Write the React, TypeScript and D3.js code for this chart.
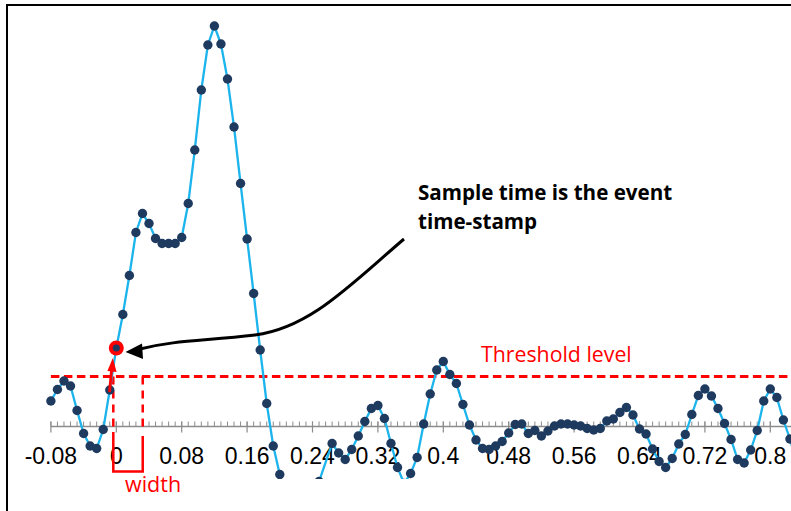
import React from 'react';
import * as d3 from 'd3';

// sample times (s) and amplitude
const sampleTimes = [
  -0.08, -0.072, -0.064, -0.056, -0.048, -0.04, -0.032, -0.024, -0.016, -0.008,
  0, 0.008, 0.016, 0.024, 0.032, 0.04, 0.048, 0.056, 0.064, 0.072,
  0.08, 0.088, 0.096, 0.104, 0.112, 0.12, 0.128, 0.136, 0.144, 0.152,
  0.16, 0.168, 0.176, 0.184, 0.192, 0.2, 0.208, 0.216, 0.224, 0.232,
  0.24, 0.248, 0.264, 0.272, 0.28, 0.288, 0.296, 0.304, 0.312,
  0.32, 0.328, 0.336, 0.344, 0.352, 0.36, 0.368, 0.376, 0.384, 0.392,
  0.4, 0.408, 0.416, 0.424, 0.432, 0.44, 0.448, 0.456, 0.464, 0.472,
  0.48, 0.488, 0.496, 0.504, 0.512, 0.52, 0.528, 0.536, 0.544, 0.552,
  0.56, 0.568, 0.576, 0.584, 0.592, 0.6, 0.608, 0.616, 0.624, 0.632,
  0.64, 0.648, 0.656, 0.664, 0.672, 0.68, 0.688, 0.696, 0.704, 0.712,
  0.72, 0.728, 0.736, 0.744, 0.752, 0.76, 0.768, 0.776, 0.784, 0.792,
  0.8, 0.808, 0.816, 0.824, 0.832,
];

const amplitudes = [
  0.255, 0.37, 0.455, 0.405, 0.16, -0.07, -0.195, -0.22, -0.03, 0.365,
  0.785, 1.12, 1.51, 1.94, 2.13, 2.03, 1.88, 1.83, 1.83, 1.83,
  1.89, 2.23, 2.765, 3.365, 3.815, 4.005, 3.825, 3.475, 2.995, 2.43,
  1.875, 1.33, 0.765, 0.23, -0.195, -0.48, -0.8, -1.05, -1.15, -1.05,
  -0.8, -0.55, -0.17, -0.265, -0.33, -0.23, -0.095, 0.05, 0.18,
  0.21, 0.08, -0.17, -0.41, -0.57, -0.47, -0.31, 0.025, 0.325, 0.565,
  0.65, 0.52, 0.43, 0.22, 0.015, -0.135, -0.22, -0.23, -0.195, -0.15,
  -0.065, 0.02, 0.025, -0.07, -0.04, -0.095, -0.045, 0.005, 0.025, 0.025,
  0.015, 0.005, -0.02, -0.035, -0.02, 0.055, 0.075, 0.14, 0.19, 0.115,
  -0.025, -0.075, -0.225, -0.35, -0.41, -0.32, -0.175, -0.08, 0.12, 0.31,
  0.375, 0.305, 0.18, 0.03, -0.13, -0.33, -0.365, -0.235, -0.04, 0.255,
  0.375, 0.29, 0.065, -0.125, -0.35,
];

const tickLabels = ['-0.08', '0', '0.08', '0.16', '0.24', '0.32', '0.4', '0.48', '0.56', '0.64', '0.72', '0.8'];

const thresholdLevel = 0.5;
const eventTime = 0;
const pulseWidth = 0.036;

const W = 791;
const H = 511;

const App = () => {
  const x = d3.scaleLinear().domain([-0.08, 0.8]).range([50.9, 770.3]);
  const y = d3.scaleLinear().domain([0, 4]).range([426.5, 26.5]);

  const points = sampleTimes.map((t, i) => ({ t, v: amplitudes[i] }));
  const line = d3.line<{ t: number; v: number }>().x((d) => x(d.t)).y((d) => y(d.v));

  const majorTicks = tickLabels.map(Number);
  const minorTicks = d3.range(0, 111).map((i) => -0.08 + i * 0.008);

  const axisY = y(0);
  const thrY = y(thresholdLevel);
  const eventPt = points.find((p) => p.t === eventTime)!;
  const ex = x(eventTime) - 3;
  const wx = x(pulseWidth) - 3;

  return (
    <svg width={W} height={H} style={{ position: 'absolute', left: 0, top: 0, background: '#fff' }}>
      <defs>
        <clipPath id="plot">
          <rect x={8} y={6} width={W} height={473} />
        </clipPath>
      </defs>
      <rect x={7} y={5} width={W + 20} height={H + 20} fill="none" stroke="#000" strokeWidth={2} />

      {/* axis */}
      <line x1={x(-0.08)} x2={W} y1={axisY} y2={axisY} stroke="#8c8c8c" strokeWidth={1.3} />
      {minorTicks.map((t, i) => (
        <line key={'m' + i} x1={x(t)} x2={x(t)} y1={axisY - 5} y2={axisY} stroke="#8c8c8c" strokeWidth={1} />
      ))}
      {majorTicks.map((t, i) => (
        <line key={'M' + i} x1={x(t)} x2={x(t)} y1={axisY - 5} y2={axisY + 6} stroke="#8c8c8c" strokeWidth={1.2} />
      ))}
      {majorTicks.map((t, i) => (
        <text key={'l' + i} x={x(t)} y={464} textAnchor="middle" fontFamily="Liberation Sans, Arial, sans-serif" fontSize={23} fill="#000">
          {tickLabels[i]}
        </text>
      ))}

      {/* threshold */}
      <line x1={x(-0.08)} x2={W} y1={thrY} y2={thrY} stroke="#ff0000" strokeWidth={3} strokeDasharray="8.5 4.5" />
      <text x={481} y={362} fontFamily="Open Sans, sans-serif" fontSize={21.3} fill="#ff0000">Threshold level</text>

      {/* width box */}
      <g stroke="#ff0000" strokeWidth={2.5} fill="none">
        <line x1={ex} x2={ex} y1={thrY} y2={432} strokeDasharray="8 6" />
        <line x1={wx} x2={wx} y1={thrY} y2={432} strokeDasharray="8 6" />
        <path d={`M${ex},432 V471.5 H${wx} V436`} />
      </g>
      <text x={125} y={491.5} fontFamily="Open Sans, sans-serif" fontSize={21.5} fill="#ff0000">width</text>

      {/* trace */}
      <g clipPath="url(#plot)">
        <path d={line(points) ?? ''} fill="none" stroke="#1cb4ec" strokeWidth={2.3} />
        <circle cx={x(eventPt.t)} cy={y(eventPt.v)} r={7.5} fill="#ff0000" />
        {points.map((p, i) => (
          <circle key={i} cx={x(p.t)} cy={y(p.v)} r={p.t === eventTime ? 3.6 : 4.7} fill="#1f3a5f" />
        ))}
      </g>

      {/* red arrow up to event point */}
      <path d="M109.5,392 L111.8,368" stroke="#ff0000" strokeWidth={2.8} fill="none" />
      <path d="M112.8,358 L116.6,372 L107.4,371 Z" fill="#ff0000" />

      {/* annotation */}
      <path d="M404,239 C350,285 310,328 255,335 C205,341 175,340 140,349" fill="none" stroke="#000" strokeWidth={3} />
      <path d="M125.5,352 L142,343.5 L143,359 Z" fill="#000" />
      <text fontFamily="Open Sans, sans-serif" fontWeight="bold" fontSize={20.6} fill="#000">
        <tspan x={418} y={200}>Sample time is the event</tspan>
        <tspan x={418} y={229}>time-stamp</tspan>
      </text>
    </svg>
  );
};

export default App;
